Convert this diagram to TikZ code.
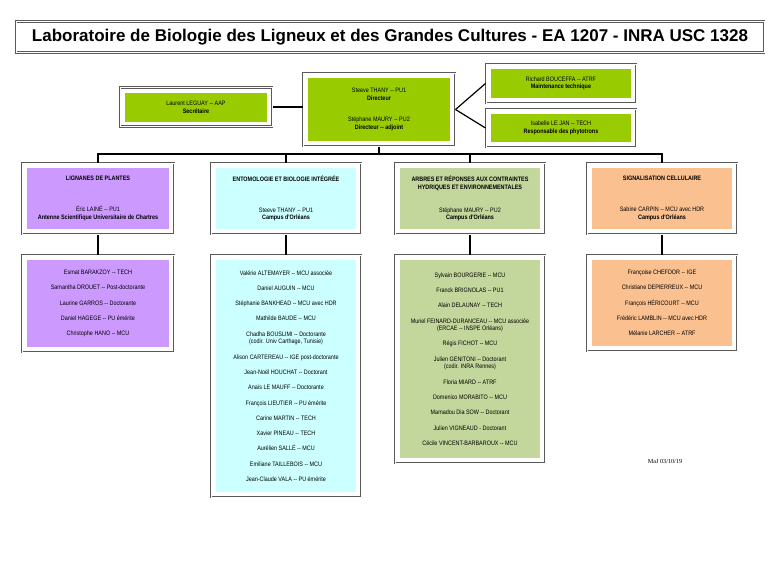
\documentclass[tikz,border=0pt]{standalone}
\usepackage{fontspec}
\setmainfont{Liberation Sans}
\newfontfamily\narrowfont[FakeStretch=0.85]{Liberation Sans}
\newfontfamily\datefont{Liberation Serif}

\definecolor{topgreen}{HTML}{99CC00}
\definecolor{lignpurple}{HTML}{CC99FF}
\definecolor{entocyan}{HTML}{CCFFFF}
\definecolor{arbgreen}{HTML}{C3D69B}
\definecolor{sigorange}{HTML}{FAC090}

\begin{document}
\begin{tikzpicture}[
		x=1pt, y=-1pt,
		unitframe/.style={draw=black!65, double=white, double distance=0.5pt, line width=1pt,
				fill=white, inner sep=0pt, align=center,
				font=\narrowfont\fontsize{6.4}{7.6}\selectfont},
		unitbox/.style={unitframe, path picture={
						\fill[#1] ([shift={(5pt,-5pt)}]path picture bounding box.north west)
						rectangle ([shift={(-5pt,5pt)}]path picture bounding box.south east);}},
		link/.style={draw, line width=1.2pt}
	]

	\fill[white] (0,0) rectangle (780,565);
	\useasboundingbox (0,0) rectangle (780,565);

	% title
	\node[unitframe, minimum width=748, minimum height=31,
		font=\bfseries\fontsize{17}{20}\selectfont] (title) at (390,37)
		{Laboratoire de Biologie des Ligneux et des Grandes Cultures - EA 1207 - INRA USC 1328};

	% direction
	\node[unitbox=topgreen, minimum width=152, minimum height=39] (secr) at (196,107)
		{Laurent LEGUAY -- AAP\\ \textbf{Secrétaire}};
	\node[unitbox=topgreen, minimum width=152, minimum height=73] (dir) at (379,109.5)
		{Steeve THANY -- PU1\\ \textbf{Directeur}\\[13.4pt]
			Stéphane MAURY -- PU2\\ \textbf{Directeur -- adjoint}};
	\node[unitbox=topgreen, minimum width=150, minimum height=39] (maint) at (561,83.5)
		{Richard BOUCEFFA -- ATRF\\ \textbf{Maintenance technique}};
	\node[unitbox=topgreen, minimum width=150, minimum height=38] (phyto) at (561,128)
		{Isabelle LE JAN -- TECH\\ \textbf{Responsable des phytotrons}};

	% teams
	\node[unitbox=lignpurple, minimum width=152, minimum height=71] (lign) at (98,198.5)
		{\textbf{LIGNANES DE PLANTES}\\[23.4pt]
			Éric LAINÉ -- PU1\\ \textbf{Antenne Scientifique Universitaire de Chartres}};
	\node[unitbox=entocyan, minimum width=150, minimum height=71] (ento) at (286,198.5)
		{\textbf{ENTOMOLOGIE ET BIOLOGIE INTÉGRÉE}\\[23.4pt]
			Steeve THANY -- PU1\\ \textbf{Campus d'Orléans}};
	\node[unitbox=arbgreen, minimum width=150, minimum height=71] (arb) at (470,198.5)
		{\textbf{ARBRES ET RÉPONSES AUX CONTRAINTES}\\ \textbf{HYDRIQUES ET ENVIRONNEMENTALES}\\[15.4pt]
			Stéphane MAURY -- PU2\\ \textbf{Campus d'Orléans}};
	\node[unitbox=sigorange, minimum width=150, minimum height=71] (sig) at (662,198.5)
		{\textbf{SIGNALISATION CELLULAIRE}\\[23.4pt]
			Sabine CARPIN -- MCU avec HDR\\ \textbf{Campus d'Orléans}};

	% members
	\node[unitbox=lignpurple, minimum width=152, minimum height=97] (lignm) at (98,303.5)
		{Esmat BARAKZOY -- TECH\\[7.7pt]
			Samantha DROUET -- Post-doctorante\\[7.7pt]
			Laurine GARROS -- Doctorante\\[7.7pt]
			Daniel HAGEGE -- PU émérite\\[7.7pt]
			Christophe HANO -- MCU};
	\node[unitbox=entocyan, minimum width=150, minimum height=242] (entom) at (286,376)
		{Valérie ALTEMAYER -- MCU associée\\[7.7pt]
			Daniel AUGUIN -- MCU\\[7.7pt]
			Stéphanie BANKHEAD -- MCU avec HDR\\[7.7pt]
			Mathilde BAUDE -- MCU\\[7.7pt]
			Chadha BOUSLIMI -- Doctorante\\ (codir. Univ Carthage, Tunisie)\\[7.7pt]
			Alison CARTEREAU -- IGE post-doctorante\\[7.7pt]
			Jean-Noël HOUCHAT -- Doctorant\\[7.7pt]
			Anaïs LE MAUFF -- Doctorante\\[7.7pt]
			François LIEUTIER -- PU émérite\\[7.7pt]
			Carine MARTIN -- TECH\\[7.7pt]
			Xavier PINEAU -- TECH\\[7.7pt]
			Aurélien SALLÉ -- MCU\\[7.7pt]
			Emiliane TAILLEBOIS -- MCU\\[7.7pt]
			Jean-Claude VALA -- PU émérite};
	\node[unitbox=arbgreen, minimum width=150, minimum height=208] (arbm) at (470,359)
		{Sylvain BOURGERIE -- MCU\\[7.7pt]
			Franck BRIGNOLAS -- PU1\\[7.7pt]
			Alain DELAUNAY -- TECH\\[7.7pt]
			Muriel FEINARD-DURANCEAU -- MCU associée\\ (ERCAE -- INSPE Orléans)\\[7.7pt]
			Régis FICHOT -- MCU\\[7.7pt]
			Julien GENITONI -- Doctorant\\ (codir. INRA Rennes)\\[7.7pt]
			Floria MIARD -- ATRF\\[7.7pt]
			Domenico MORABITO -- MCU\\[7.7pt]
			Mamadou Dia SOW -- Doctorant\\[7.7pt]
			Julien VIGNEAUD - Doctorant\\[7.7pt]
			Cécile VINCENT-BARBAROUX -- MCU};
	\node[unitbox=sigorange, minimum width=150, minimum height=96] (sigm) at (662,303)
		{Françoise CHEFDOR -- IGE\\[7.7pt]
			Christiane DEPIERREUX -- MCU\\[7.7pt]
			François HÉRICOURT -- MCU\\[7.7pt]
			Frédéric LAMBLIN -- MCU avec HDR\\[7.7pt]
			Mélanie LARCHER -- ATRF};

	\node[font=\datefont\fontsize{6.2}{7}\selectfont] (maj) at (665,461) {MaJ 03/10/19};

	% connectors
	\coordinate (bus) at (379,154);
	\draw[link] (secr.east) -- (secr.east -| dir.west);
	\draw[link] (dir.east) -- (maint.west);
	\draw[link] (dir.east) -- (phyto.west);
	\draw[link] (dir.south) -- (bus);
	\draw[link] (lign.north) |- (bus) -| (sig.north);
	\draw[link] (ento.north) -- (ento.north |- bus);
	\draw[link] (arb.north) -- (arb.north |- bus);
	\draw[link] (lign) -- (lignm);
	\draw[link] (ento) -- (entom);
	\draw[link] (arb) -- (arbm);
	\draw[link] (sig) -- (sigm);

\end{tikzpicture}
\end{document}
